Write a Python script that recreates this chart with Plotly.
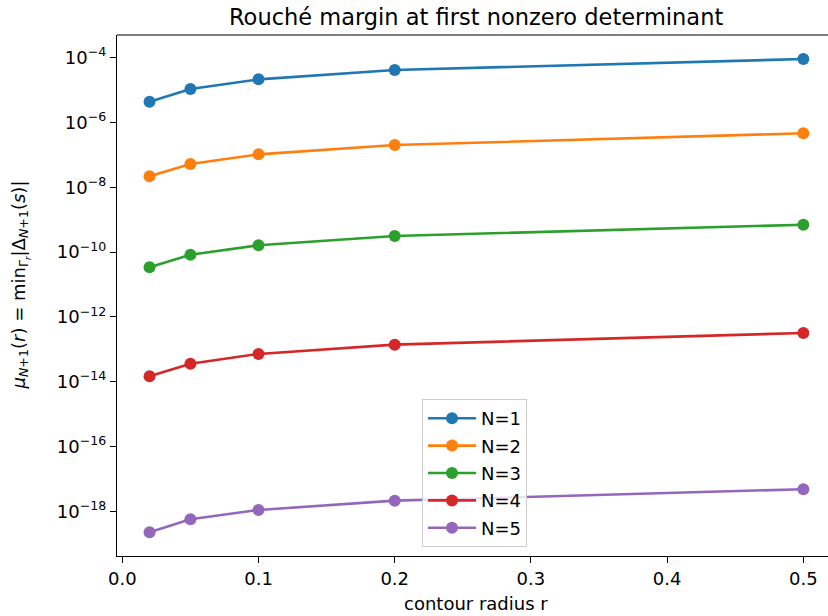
import plotly.graph_objects as go

radii = [0.02, 0.05, 0.1, 0.2, 0.5]
series_names = ["N=1", "N=2", "N=3", "N=4", "N=5"]
mu_N1 = [4.39e-6, 1.08e-5, 2.15e-5, 4.17e-5, 9.1e-5]
mu_N2 = [2.18e-8, 5.24e-8, 1.04e-7, 2.02e-7, 4.65e-7]
mu_N3 = [3.39e-11, 8.3e-11, 1.62e-10, 3.14e-10, 7.0e-10]
mu_N4 = [1.47e-14, 3.6e-14, 7.2e-14, 1.39e-13, 3.19e-13]
mu_N5 = [2.25e-19, 5.66e-19, 1.1e-18, 2.13e-18, 4.8e-18]
colors = ["#1f77b4", "#ff7f0e", "#2ca02c", "#d62728", "#9467bd"]

x_ticks = [0.0, 0.1, 0.2, 0.3, 0.4, 0.5]
x_ticktext = ["0.0", "0.1", "0.2", "0.3", "0.4", "0.5"]
y_exps = [-4, -6, -8, -10, -12, -14, -16, -18]

FONT = "DejaVu Sans"
FS = 18

fig = go.Figure()
for name, vals, c in zip(series_names, [mu_N1, mu_N2, mu_N3, mu_N4, mu_N5], colors):
    fig.add_trace(go.Scatter(
        x=radii, y=vals, name=name, mode="lines+markers",
        legendgroup=name,
        line=dict(color=c, width=2.6),
        marker=dict(color=c, size=12),
    ))

fig.update_layout(
    width=828, height=616,
    margin=dict(l=117, r=0, t=35, b=60),
    plot_bgcolor="white", paper_bgcolor="white",
    font=dict(family=FONT, size=FS, color="black"),
    showlegend=True,
    legend=dict(
        x=0.429, y=0.0173, xref="paper", yref="paper",
        xanchor="left", yanchor="bottom",
        bgcolor="rgba(255,255,255,0.8)", bordercolor="#cccccc", borderwidth=1,
        font=dict(family=FONT, size=FS, color="black"),
        itemwidth=48, traceorder="grouped", tracegroupgap=1,
    ),
    xaxis=dict(
        range=[-0.0039, 0.5181],
        tickmode="array", tickvals=x_ticks, ticktext=x_ticktext,
        showgrid=False, zeroline=False,
        showline=True, linecolor="black", linewidth=1.2, mirror=False,
        ticks="outside", ticklen=6, tickwidth=1.2, tickcolor="black",
        tickfont=dict(family=FONT, size=FS, color="black"),
    ),
    yaxis=dict(
        type="log",
        range=[-19.38, -3.299],
        tickmode="array",
        tickvals=[10.0 ** e for e in y_exps],
        ticktext=["10<sup>\u2212%d</sup>" % (-e) for e in y_exps],
        showgrid=False, zeroline=False,
        showline=True, linecolor="black", linewidth=1.2, mirror=False,
        ticks="outside", ticklen=6, tickwidth=1.2, tickcolor="black",
        tickfont=dict(family=FONT, size=FS, color="black"),
    ),
)

# top spine
fig.add_shape(type="line", xref="paper", yref="paper", x0=0, x1=1, y0=1, y1=1,
              line=dict(color="black", width=1.2))

fig.add_annotation(
    text="Rouché margin at first nonzero determinant",
    xref="x", yref="paper", x=0.26, y=1, yshift=18,
    showarrow=False, xanchor="center", yanchor="middle",
    font=dict(family=FONT, size=22.5, color="black"),
)
fig.add_annotation(
    text="contour radius r",
    xref="x", yref="paper", x=0.26, y=0, yshift=-47,
    showarrow=False, xanchor="center", yanchor="middle",
    font=dict(family=FONT, size=FS, color="black"),
)
fig.add_annotation(
    text="<i>μ</i><sub><i>N</i>+1</sub>(<i>r</i>) = min<sub>Γ<sub><i>r</i></sub></sub>|Δ<sub><i>N</i>+1</sub>(<i>s</i>)|",
    xref="paper", yref="paper", x=0, y=0.5, xshift=-97, yshift=10,
    showarrow=False, textangle=-90, xanchor="center", yanchor="middle",
    font=dict(family=FONT, size=FS, color="black"),
)

fig.write_html("out.html")
